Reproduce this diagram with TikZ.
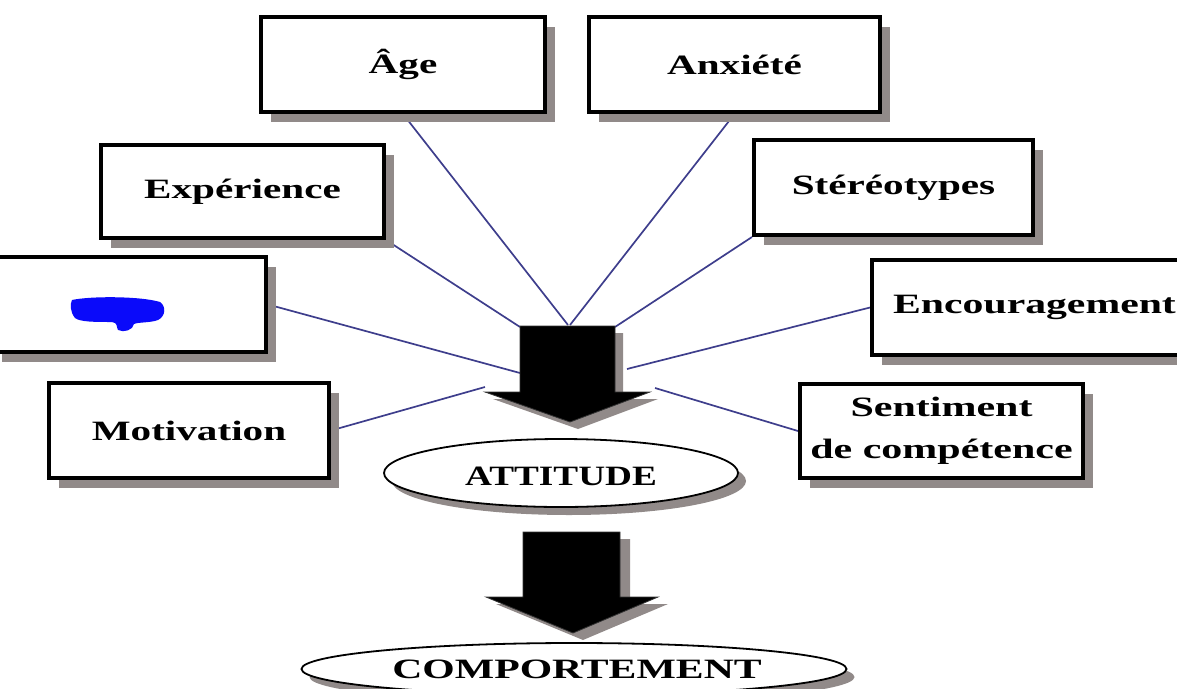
\documentclass[tikz,border=0pt]{standalone}
\usepackage{fontspec}
\setmainfont{Liberation Serif}
\usetikzlibrary{shadows,shapes.geometric}
\definecolor{shade}{RGB}{145,138,137}
\definecolor{linkc}{RGB}{62,62,140}
\definecolor{scrib}{RGB}{10,10,250}
\newcommand\hs[2][1.47]{\scalebox{#1}[1]{#2}}
\pgfdeclarelayer{bg}
\pgfsetlayers{bg,main}
\begin{document}
\begin{tikzpicture}[x=1pt,y=-1pt,
  box/.style={draw=black, line width=4pt, fill=white, rectangle, inner sep=0pt,
    drop shadow={shadow xshift=10pt, shadow yshift=-10pt, fill=shade, opacity=1},
    font=\fontsize{28}{42}\selectfont\bfseries, align=center},
  oval/.style={draw=black, line width=1.8pt, fill=white, ellipse, inner sep=0pt,
    drop shadow={shadow xshift=8pt, shadow yshift=-8pt, fill=shade, opacity=1},
    font=\fontsize{28}{34}\selectfont\bfseries},
  ovaltext/.style={inner sep=0pt, font=\fontsize{28}{34}\selectfont\bfseries},
  link/.style={draw=linkc, line width=1.7pt},
  bigarrow/.style={fill=black, draw=black!80, line width=0.8pt},
  arrowshade/.style={fill=shade}]
\useasboundingbox (0,0) rectangle (1177,688);
\begin{scope}
\clip (0,0) rectangle (1177,688);
% arrow attachment points
\coordinate (e1) at (568,325);
\coordinate (e2) at (570,325);
\coordinate (e3) at (520,327);
\coordinate (e4) at (615,327);
\coordinate (e5) at (520,373);
\coordinate (e6) at (627,369);
\coordinate (e7) at (485,387);
\coordinate (e8) at (655,388);
% boxes
\path
  node[box, minimum width=284pt, minimum height=95pt] (age) at (403,64.5) {\hs{Âge}}
  node[box, minimum width=291pt, minimum height=95pt] (anx) at (734.5,64.5) {\hs{Anxiété}}
  node[box, minimum width=283pt, minimum height=93pt] (exp) at (242.5,191.5) {\hs{Expérience}}
  node[box, minimum width=279pt, minimum height=95pt] (ste) at (893.5,187.5) {\hs{Stéréotypes}}
  node[box, minimum width=274pt, minimum height=95pt] (blu) at (129,304.5) {}
  node[box, minimum width=325pt, minimum height=95pt] (enc) at (1034.5,307.5) {\hs[1.49]{Encouragement}}
  node[box, minimum width=280pt, minimum height=95pt] (mot) at (189,430.5) {\hs{Motivation}}
  node[box, minimum width=283pt, minimum height=94pt] (sen) at (941.5,431) {\hs[1.5]{Sentiment}\\\hs[1.5]{de compétence}};
% scribble in the blank box
\fill[scrib] (72,300) .. controls (90,296) and (140,296) .. (160,302)
  .. controls (166,306) and (166,316) .. (158,320)
  .. controls (150,323) and (138,322) .. (134,324)
  .. controls (133,330) and (124,333) .. (118,330)
  .. controls (116,326) and (118,323) .. (112,322)
  .. controls (95,322) and (80,322) .. (75,318)
  .. controls (70,312) and (70,304) .. (72,300) -- cycle;
% connectors (behind everything)
\begin{pgfonlayer}{bg}
\draw[link] (age.south) -- (e1);
\draw[link] (anx.south) -- (e2);
\draw[link] (exp.south east) -- (e3);
\draw[link] (ste.south west) -- (e4);
\draw[link] (blu.east) -- (e5);
\draw[link] (enc.west) -- (e6);
\draw[link] (mot.east) -- (e7);
\draw[link] (sen.west) -- (e8);
\end{pgfonlayer}
% first big arrow
\fill[arrowshade] ([shift={(8,7)}]520,326) -- ++(95,0) -- ++(0,66) -- ++(35,0) -- ++(-80,30) -- ++(-85,-30) -- ++(35,0) -- cycle;
\path[bigarrow] (520,326) -- (615,326) -- (615,392) -- (650,392) -- (570,422) -- (485,392) -- (520,392) -- cycle;
% ATTITUDE ellipse
\node[oval, minimum width=354pt, minimum height=68pt] (att) at (561,473) {};
\node[ovaltext] (attx) at (561,476) {\hs[1.33]{ATTITUDE}};
% second big arrow
\fill[arrowshade] ([shift={(10,7)}]523,532) -- ++(97,0) -- ++(0,65) -- ++(38,0) -- ++(-85,36) -- ++(-87,-36) -- ++(37,0) -- cycle;
\path[bigarrow] (523,532) -- (620,532) -- (620,597) -- (658,597) -- (573,633) -- (486,597) -- (523,597) -- cycle;
% COMPORTEMENT ellipse
\node[oval, minimum width=545pt, minimum height=52pt] (com) at (574,669) {};
\node[ovaltext] (comx) at (577,669) {\hs[1.49]{COMPORTEMENT}};
\end{scope}
\end{tikzpicture}
\end{document}
